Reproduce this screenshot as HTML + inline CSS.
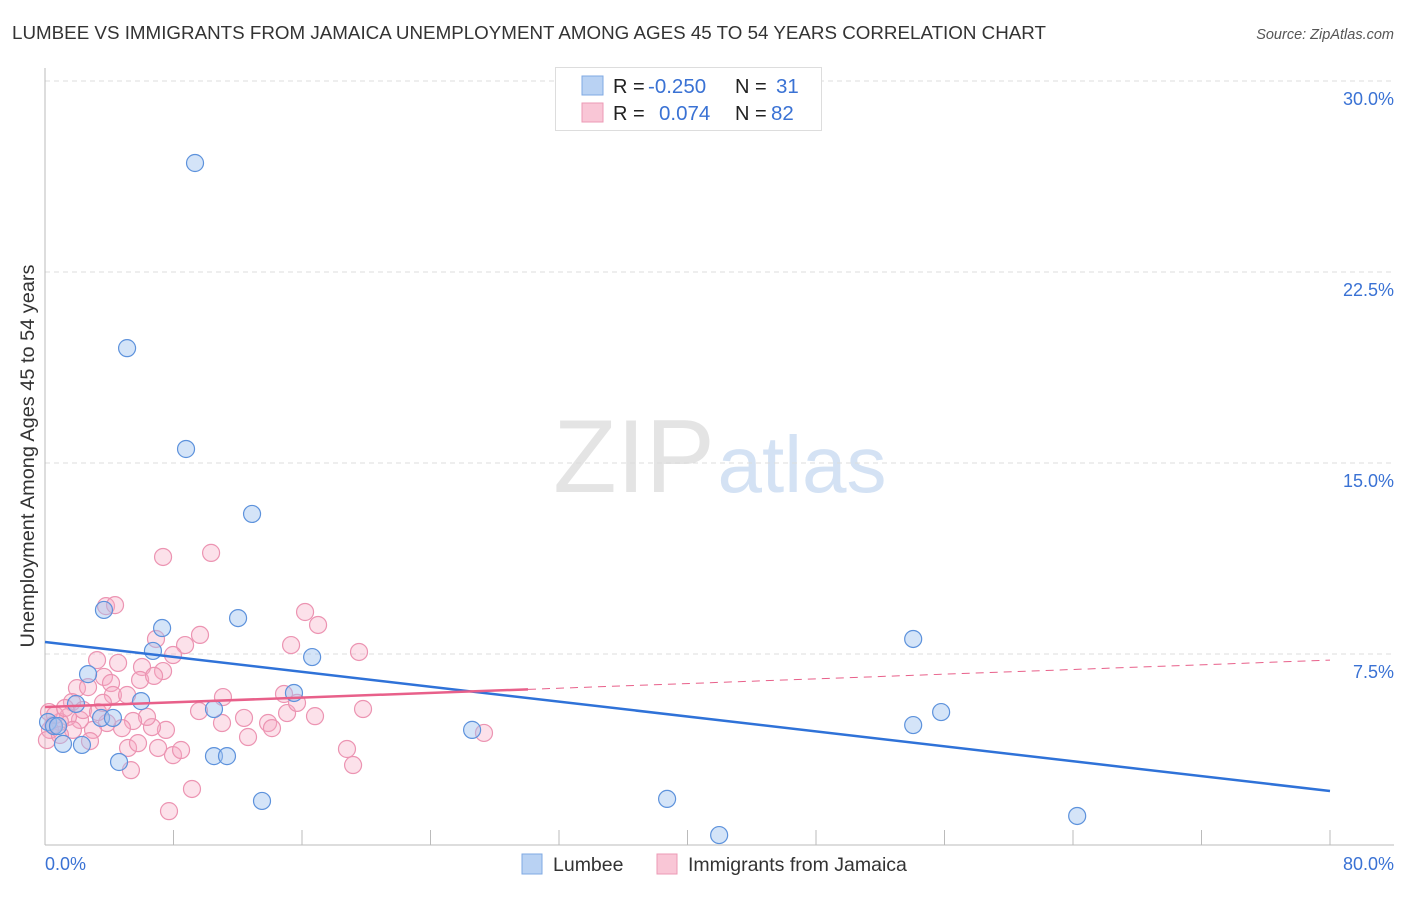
<!DOCTYPE html>
<html><head><meta charset="utf-8"><style>
body{margin:0;background:#fff;font-family:"Liberation Sans",sans-serif;}
svg text{font-family:"Liberation Sans",sans-serif;}
</style></head><body>
<svg id="chart" width="1406" height="892" viewBox="0 0 1406 892" xmlns="http://www.w3.org/2000/svg">
<text x="12" y="39" font-size="18.6" fill="#333" textLength="1034" lengthAdjust="spacingAndGlyphs">LUMBEE VS IMMIGRANTS FROM JAMAICA UNEMPLOYMENT AMONG AGES 45 TO 54 YEARS CORRELATION CHART</text>
<text x="1394" y="39" font-size="14.5" fill="#555" text-anchor="end" font-style="italic">Source: ZipAtlas.com</text>
<g>
<text x="634" y="492" font-size="104" fill="#e4e4e4" text-anchor="middle" font-family="Liberation Serif, serif">ZIP</text>
<text x="802" y="492" font-size="80" fill="#d4e2f4" text-anchor="middle">atlas</text>
</g>
<g id="grid"></g>
<g id="axes"></g>
<g id="marks"></g>
<g id="lines"></g>
<text transform="translate(34,456) rotate(-90)" font-size="19" fill="#333" text-anchor="middle" textLength="383" lengthAdjust="spacingAndGlyphs">Unemployment Among Ages 45 to 54 years</text>
<g>
<rect x="555.5" y="67.5" width="266" height="63" fill="#fff" stroke="#ddd"/>
<rect x="582" y="76" width="21" height="19" fill="#b9d2f3" stroke="#7fa9e3"/>
<rect x="582" y="103" width="21" height="19" fill="#f9c6d6" stroke="#ec9ab5"/>
<text x="613" y="93" font-size="20" fill="#222">R = </text><text x="648" y="93" font-size="20.5" fill="#3a72d4">-0.250</text>
<text x="735" y="93" font-size="20" fill="#222">N = </text><text x="776" y="93" font-size="20.5" fill="#3a72d4">31</text>
<text x="613" y="120" font-size="20" fill="#222">R = </text><text x="659" y="120" font-size="20.5" fill="#3a72d4">0.074</text>
<text x="735" y="120" font-size="20" fill="#222">N = </text><text x="771" y="120" font-size="20.5" fill="#3a72d4">82</text>
</g>
<g>
<rect x="522" y="854" width="20" height="20" fill="#b9d2f3" stroke="#7fa9e3"/>
<text x="553" y="871" font-size="19.5" fill="#333">Lumbee</text>
<rect x="657" y="854" width="20" height="20" fill="#f9c6d6" stroke="#ec9ab5"/>
<text x="688" y="871" font-size="19.5" fill="#333">Immigrants from Jamaica</text>
</g>
</svg>
<script>
const blueX=[9.34,5.11,8.78,12.89,12.02,3.67,7.29,6.72,16.63,2.68,5.98,15.5,1.93,10.52,3.49,4.23,0.19,0.56,0.81,1.12,2.3,4.61,10.52,11.33,13.51,26.59,38.73,41.97,54.05,54.05,55.79,64.26];
const blueY=[26.78,19.51,15.55,13.0,8.91,9.23,8.52,7.62,7.38,6.71,5.65,5.97,5.54,5.34,4.99,4.99,4.83,4.67,4.67,3.97,3.93,3.26,3.49,3.49,1.73,4.52,1.81,0.39,8.09,4.71,5.22,1.14];
const pinkX=[7.35,10.34,3.80,4.36,6.91,8.72,9.65,7.97,3.24,4.55,6.04,7.35,5.92,6.79,3.67,4.11,1.99,2.68,4.23,5.11,1.68,11.08,9.59,11.02,12.39,12.64,13.89,14.13,14.88,15.07,15.69,16.81,16.19,17.0,15.32,19.55,19.80,18.80,19.18,9.15,7.72,5.35,5.17,5.79,7.04,7.97,8.47,7.53,6.66,6.35,5.48,4.79,3.86,2.99,2.80,2.18,1.43,0.93,0.50,0.31,1.74,2.37,3.30,3.61,0.25,27.33,0.12,0.62,1.25,0.93];
const pinkY=[11.31,11.47,9.38,9.42,8.09,7.85,8.25,7.46,7.26,7.15,6.99,6.83,6.48,6.64,6.60,6.36,6.16,6.20,5.89,5.89,5.61,5.81,5.26,4.79,4.99,4.24,4.79,4.59,5.93,5.18,5.58,5.06,9.15,8.64,7.85,7.58,5.34,3.77,3.14,2.20,1.33,2.94,3.81,4.00,3.81,3.53,3.73,4.52,4.63,5.03,4.87,4.59,4.79,4.52,4.08,4.91,5.03,4.83,4.71,4.52,4.52,5.30,5.22,5.58,5.22,4.40,4.12,5.10,5.38,4.32];
const blueTrend=[7.97,2.12];   // y at x=0 and x=80
const pinkTrend=[5.42,7.26];   // y at x=0 and x=80
const pinkSolidEnd=30.07;
const yTicks=[7.5,15,22.5,30];
const yTickLabels=["7.5%","15.0%","22.5%","30.0%"];
const xTicks=[0,8,16,24,32,40,48,56,64,72,80];
const NS="http://www.w3.org/2000/svg";
const X=v=>45+v*(1285/80);
const Y=v=>845-v*(191/7.5);
function mk(tag,attrs,parent){const e=document.createElementNS(NS,tag);for(const k in attrs)e.setAttribute(k,attrs[k]);document.getElementById(parent).appendChild(e);return e;}
yTicks.forEach((t,i)=>{
 const g=mk('line',{x1:45,x2:1394,y1:Y(t),y2:Y(t),stroke:'#ddd','stroke-dasharray':'5,4'},'grid');
 
 
 const l=mk('text',{x:1394,y:Y(t)+24,'font-size':18,fill:'#3a72d4','text-anchor':'end'},'grid');
 l.textContent=yTickLabels[i];
 
 
});
let a=mk('line',{x1:45,x2:45,y1:68,y2:845,stroke:'#bbb'},'axes');


a=mk('line',{x1:45,x2:1394,y1:845,y2:845,stroke:'#bbb'},'axes');


xTicks.forEach(t=>{
 const k=mk('line',{x1:X(t),x2:X(t),y1:830,y2:845,stroke:'#bbb'},'axes');
 
 
});
let tl=mk('text',{x:45,y:870,'font-size':18,fill:'#3a72d4'},'axes');tl.textContent='0.0%';


tl=mk('text',{x:1394,y:870,'font-size':18,fill:'#3a72d4','text-anchor':'end'},'axes');tl.textContent='80.0%';


pinkX.forEach((v,i)=>{
 const c=mk('circle',{cx:X(v),cy:Y(pinkY[i]),r:8.5,fill:'rgba(246,170,195,0.35)',stroke:'#ec94b2','stroke-width':1.2},'marks');
 
 
});
blueX.forEach((v,i)=>{
 const c=mk('circle',{cx:X(v),cy:Y(blueY[i]),r:8.5,fill:'rgba(160,196,240,0.45)',stroke:'#5d92dc','stroke-width':1.2},'marks');
 
 
});
let t=mk('line',{x1:X(0),y1:Y(blueTrend[0]),x2:X(80),y2:Y(blueTrend[1]),stroke:'#2f72d8','stroke-width':2.5},'lines');


const py=x=>pinkTrend[0]+(pinkTrend[1]-pinkTrend[0])*x/80;
t=mk('line',{x1:X(0),y1:Y(py(0)),x2:X(pinkSolidEnd),y2:Y(py(pinkSolidEnd)),stroke:'#e8608a','stroke-width':2.5},'lines');


t=mk('line',{x1:X(pinkSolidEnd),y1:Y(py(pinkSolidEnd)),x2:X(80),y2:Y(py(80)),stroke:'#e8608a','stroke-width':1,'stroke-dasharray':'8,6'},'lines');


</script>
</body></html>
